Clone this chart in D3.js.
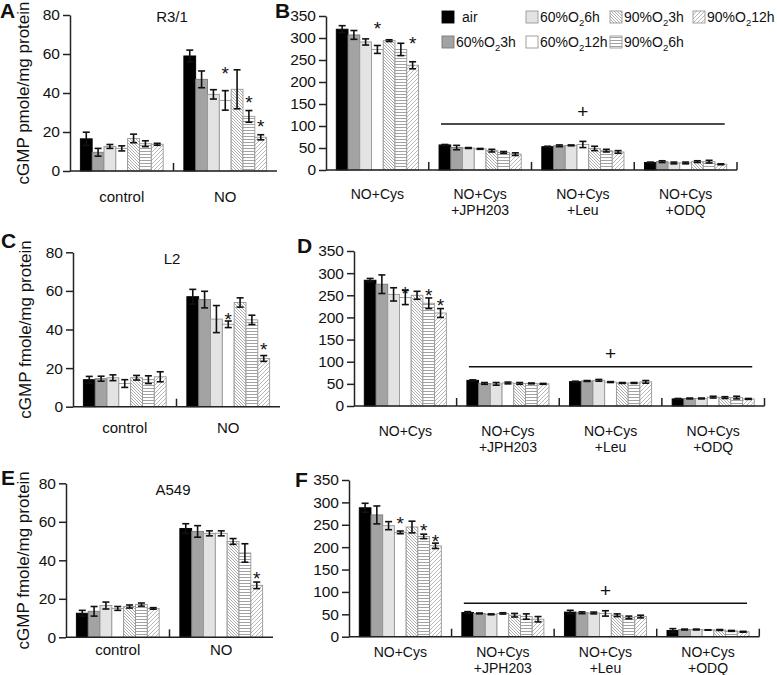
<!DOCTYPE html>
<html><head><meta charset="utf-8">
<script src="https://cdn.jsdelivr.net/npm/d3@7"></script>
<style>
body{margin:0;background:#fff}
text{font-family:"Liberation Sans",Arial,sans-serif;fill:#111}
</style>
</head><body><svg id="c" width="777" height="675"></svg>
<script>
// ---------- DATA ----------
const series = ["air","60%O2 3h","60%O2 6h","60%O2 12h","90%O2 3h","90%O2 6h","90%O2 12h"];
const leftGroups = [["control"],["NO"]];
const rightGroups = [["NO+Cys"],["NO+Cys","+JPH203"],["NO+Cys","+Leu"],["NO+Cys","+ODQ"]];
const leftTicks = [0,20,40,60,80];
const rightTicks = [0,50,100,150,200,250,300,350];

// Panel A (R3/1): rows = groups, columns = series
const aMean = [[16.5,9.6,12.6,11.6,16.7,14,13.7],[59,47,39.3,36.2,41.9,28,17.3]];
const aErr  = [[3.4,2,1,1.3,2.2,1.5,0.5],[3,4.3,2.4,5,10,3,1.3]];
const aStars = [[1,3,52],[1,5,36.8],[1,6,24.4]];

// Panel B
const bMean = [[320,307,291,274,294,274,238],[57,51,50,48,44,40,36],[53,55,56,58,49,44,41],[17,19,16,16,19,19,13]];
const bErr  = [[8,10,7,9,2,14,8],[1,5,1,1,3,2,3],[1,2,1,7,5,3,3],[1,2,2,2,2,3,1]];
const bStars = [[0,3,329.5],[0,6,295]];
const bPlus = [104.5,134];

// Panel C (L2)
const cMean = [[14,14.5,15,12,15,14,15.5],[57,55.5,45.4,42.7,54,45,25]];
const cErr  = [[1.7,1.3,1.5,2,1.2,2,2.6],[3.8,4.3,7,1.7,2.4,2.4,1.5]];
const cStars = [[1,3,47],[1,6,31.6]];

// Panel D
const dMean = [[284,275,252,245,250,232,210],[58,51,50,52,51,51,50],[55,56.5,58,54,52,52,54.5],[16,17,17,20,19,19,16]];
const dErr  = [[4,21,15,16,9,12,10],[1,2,3,2,2,1,1],[1,1,2,1,1,1,3],[1,1,1,2,2,3,1]];
const dStars = [[0,3,262],[0,5,258],[0,6,235]];
const dPlus = [88.7,119.6];

// Panel E (A549)
const eMean = [[12.5,13.5,16.5,15,16,17,15],[56.5,55,54,54,49.8,43.8,27]];
const eErr  = [[1.5,2.5,1.8,1,0.8,0.8,0.4],[2.5,3,1.3,1.3,1.5,4.8,1.7]];
const eStars = [[1,6,32.4]];

// Panel F
const fMean = [[288,272,248,233,245,224,203],[54,52,50,52,48,45,39],[55,53.5,53,52,48,43,45],[14,16,16,15,15,13,11]];
const fErr  = [[10,20,9,3,13,5,6],[2,1,1,1.5,4,6,6],[4,2,2,6,3,3,3],[4,1,1,0.5,1,1,1]];
const fStars = [[0,3,260.7],[0,5,244],[0,6,220]];
const fPlus = [74.6,104.3];

// ---------- STYLE ----------
const svg = d3.select('#c');
const defs = svg.append('defs');
function pat(id,w,h,d,col,sw){
  const p = defs.append('pattern').attr('id',id).attr('patternUnits','userSpaceOnUse').attr('width',w).attr('height',h);
  p.append('rect').attr('width',w).attr('height',h).attr('fill','#fff');
  p.append('path').attr('d',d).attr('stroke',col).attr('stroke-width',sw).attr('fill','none');
}
pat('p3',3,3,'M-1,-1 L4,4 M-1,2 L1,4 M2,-1 L4,1','#8a8a8a',0.7);
pat('p6',4,3,'M0,1.5 L4,1.5','#8a8a8a',0.8);
pat('p12',4,4,'M-1,5 L5,-1 M-1,1 L1,-1 M3,5 L5,3','#9a9a9a',0.7);
const fills = ['#000','#a3a3a3','#e3e3e3','#fff','url(#p3)','url(#p6)','url(#p12)'];
const strokes = ['#000','#7a7a7a','#979797','#979797','#979797','#979797','#979797'];

// ---------- PANELS ----------
function drawPanel(c){
  const g = svg.append('g');
  const x = d3.scaleBand().domain(d3.range(c.groups.length)).range([c.x0,c.x1]).padding(0);
  const xs = d3.scaleBand().domain(d3.range(series.length)).range([x.bandwidth()*0.1, x.bandwidth()*0.9]).padding(0);
  const y = d3.scaleLinear().domain([0, c.ticks[c.ticks.length-1]]).range([c.y0, c.yTop]);
  const bw = xs.bandwidth();

  const cells = [];
  c.mean.forEach((row,i)=>row.forEach((v,j)=>cells.push({i,j,v,e:c.err[i][j]})));
  g.selectAll('rect.bar').data(cells).join('rect')
    .attr('x',d=>x(d.i)+xs(d.j)).attr('width',bw)
    .attr('y',d=>y(d.v)).attr('height',d=>y(0)-y(d.v))
    .attr('fill',d=>fills[d.j]).attr('stroke',d=>strokes[d.j]).attr('stroke-width',0.9);

  const eb = g.selectAll('g.eb').data(cells).join('g').attr('stroke','#111').attr('stroke-width',1.6);
  eb.append('line').attr('x1',d=>x(d.i)+xs(d.j)+bw/2).attr('x2',d=>x(d.i)+xs(d.j)+bw/2)
    .attr('y1',d=>y(d.v+d.e)).attr('y2',d=>y(Math.max(0,d.v-d.e)));
  eb.append('line').attr('x1',d=>x(d.i)+xs(d.j)+bw/2-3.5).attr('x2',d=>x(d.i)+xs(d.j)+bw/2+3.5)
    .attr('y1',d=>y(d.v+d.e)).attr('y2',d=>y(d.v+d.e));
  eb.append('line').attr('x1',d=>x(d.i)+xs(d.j)+bw/2-3.5).attr('x2',d=>x(d.i)+xs(d.j)+bw/2+3.5)
    .attr('y1',d=>y(Math.max(0,d.v-d.e))).attr('y2',d=>y(Math.max(0,d.v-d.e)));

  // stars
  g.selectAll('text.star').data(c.stars).join('text')
    .attr('x',d=>x(d[0])+xs(d[1])+bw/2).attr('y',d=>y(d[2])+10)
    .attr('text-anchor','middle').attr('font-size',19).attr('fill','#333').text('*');

  // plus annotation
  if(c.plus){
    const xa = x(1)+xs(0)+2, xb = x(c.groups.length-1)+xs(series.length-1)+bw-2;
    g.append('line').attr('x1',xa).attr('x2',xb).attr('y1',y(c.plus[0])).attr('y2',y(c.plus[0]))
      .attr('stroke','#111').attr('stroke-width',1.5);
    g.append('text').attr('x',x(2)+x.bandwidth()/2).attr('y',y(c.plus[1])+6.5)
      .attr('text-anchor','middle').attr('font-size',19).text('+');
  }

  // y axis
  const ya = g.append('g').attr('transform',`translate(${c.x0},0)`)
    .call(d3.axisLeft(y).tickValues(c.ticks).tickSize(7).tickSizeOuter(0).tickPadding(3));
  ya.select('.domain').attr('stroke','#222').attr('stroke-width',1.5);
  ya.selectAll('.tick line').attr('stroke','#222').attr('stroke-width',1.5);
  ya.selectAll('.tick text').attr('font-size',15.5).attr('font-family','"Liberation Sans",Arial,sans-serif').attr('fill','#111');

  // x axis
  g.append('line').attr('x1',c.x0).attr('x2',c.x1).attr('y1',y(0)).attr('y2',y(0)).attr('stroke','#222').attr('stroke-width',1.5);
  const divs = d3.range(1, c.groups.length + (c.endTick?1:0));
  g.selectAll('line.div').data(divs).join('line')
    .attr('x1',d=>d<c.groups.length?x(d):c.x1).attr('x2',d=>d<c.groups.length?x(d):c.x1)
    .attr('y1',y(0)).attr('y2',y(0)-8).attr('stroke','#222').attr('stroke-width',1.5);

  // category labels
  c.groups.forEach((lines,i)=>{
    lines.forEach((t,k)=>{
      g.append('text').attr('x',x(i)+x.bandwidth()/2).attr('y',c.labelY+k*15.5)
        .attr('text-anchor','middle').attr('font-size',c.catSize).text(t);
    });
  });

  if(c.title) g.append('text').attr('x',c.titleX).attr('y',c.titleY).attr('text-anchor','middle').attr('font-size',15).text(c.title);
  if(c.ylabel) g.append('text').attr('transform',`translate(${c.ylabelX},${(c.y0+c.yTop)/2}) rotate(-90)`)
      .attr('text-anchor','middle').attr('font-size',17).text(c.ylabel);
  g.append('text').attr('x',c.lx).attr('y',c.ly).attr('font-size',21).attr('font-weight','bold').text(c.letter);
}

drawPanel({letter:'A',lx:0,ly:18,x0:70,x1:277,yTop:15,y0:171,ticks:leftTicks,groups:leftGroups,mean:aMean,err:aErr,stars:aStars,
  title:'R3/1',titleX:172,titleY:22,ylabel:'cGMP pmole/mg protein',ylabelX:29,labelY:202,catSize:15,endTick:false});
drawPanel({letter:'C',lx:1,ly:248,x0:73,x1:280,yTop:252.3,y0:406.7,ticks:leftTicks,groups:leftGroups,mean:cMean,err:cErr,stars:cStars,
  title:'L2',titleX:172,titleY:264,ylabel:'cGMP fmole/mg protein',ylabelX:31,labelY:433,catSize:15,endTick:false});
drawPanel({letter:'E',lx:1,ly:485,x0:66,x1:273,yTop:483.3,y0:637.3,ticks:leftTicks,groups:leftGroups,mean:eMean,err:eErr,stars:eStars,
  title:'A549',titleX:173,titleY:495,ylabel:'cGMP fmole/mg protein',ylabelX:29,labelY:655,catSize:15,endTick:false});
drawPanel({letter:'B',lx:275,ly:18,x0:326,x1:737,yTop:16,y0:170,ticks:rightTicks,groups:rightGroups,mean:bMean,err:bErr,stars:bStars,
  plus:bPlus,labelY:199,catSize:14,endTick:true});
drawPanel({letter:'D',lx:297,ly:253,x0:354,x1:764.5,yTop:251,y0:406,ticks:rightTicks,groups:rightGroups,mean:dMean,err:dErr,stars:dStars,
  plus:dPlus,labelY:436,catSize:14,endTick:true});
drawPanel({letter:'F',lx:295,ly:487,x0:349,x1:759.3,yTop:480,y0:636.7,ticks:rightTicks,groups:rightGroups,mean:fMean,err:fErr,stars:fStars,
  plus:fPlus,labelY:657,catSize:14,endTick:true});

// ---------- LEGEND ----------
const lg = svg.append('g');
const colX = [442,526,610,693], rowY = [17,42];
series.forEach((s,j)=>{
  const cx = colX[Math.floor(j/2)], cy = rowY[j%2];
  lg.append('rect').attr('x',cx).attr('y',cy-6).attr('width',12).attr('height',12)
    .attr('fill',fills[j]).attr('stroke',strokes[j]).attr('stroke-width',0.9);
  const t = lg.append('text').attr('x',cx+(j===0?20:14)).attr('y',cy+5).attr('font-size',14);
  const parts = s.split('O2 ');
  if(parts.length===2){
    t.append('tspan').text(parts[0]+'O');
    t.append('tspan').attr('font-size',9.5).attr('dy',4).text('2');
    t.append('tspan').attr('dy',-4).text(parts[1]);
  } else t.text(s);
});
</script>
</body></html>
